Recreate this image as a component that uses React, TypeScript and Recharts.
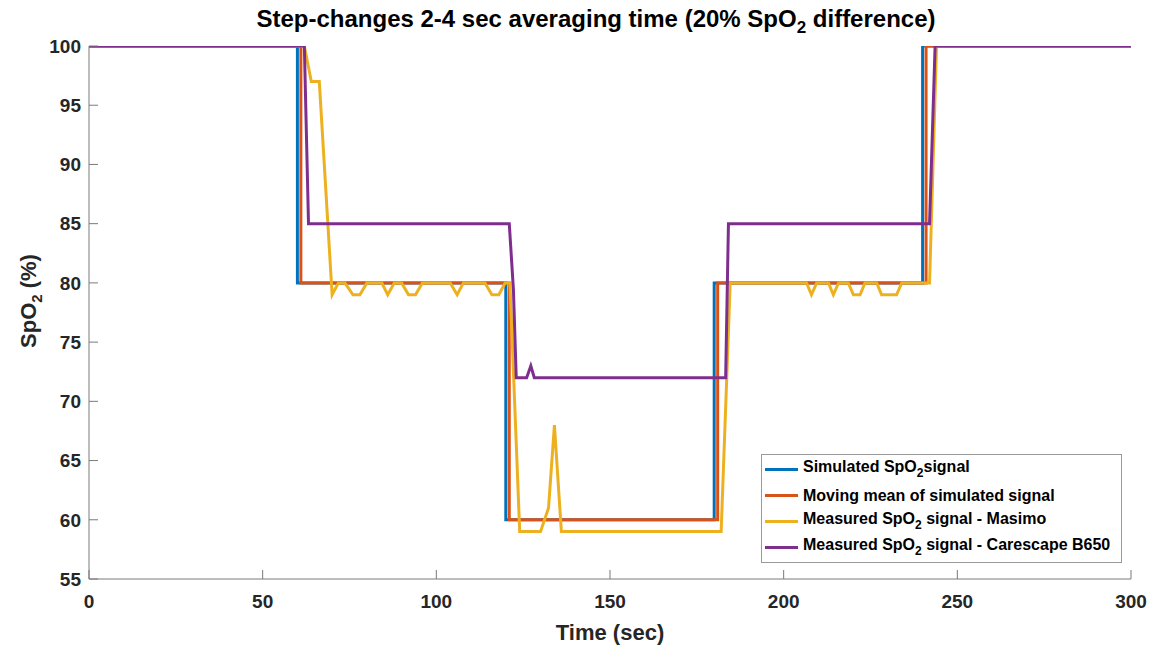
import React from "react";
import { LineChart, Line, XAxis, YAxis } from "recharts";

// time (sec) and SpO2 (%) for each trace
const simulatedTime = [0, 60, 60, 120, 120, 180, 180, 240, 240, 300];
const simulatedSpo2 = [100, 100, 80, 80, 60, 60, 80, 80, 100, 100];

const movingMeanTime = [0, 61, 61, 121, 121, 181, 181, 241, 241, 300];
const movingMeanSpo2 = [100, 100, 80, 80, 60, 60, 80, 80, 100, 100];

const masimoTime = [
  0, 62, 64, 66.3, 70, 71.8, 73.7, 76, 78, 80, 84.3, 86, 87.9, 90, 92, 94, 96, 104, 106, 107.8, 114, 116, 118, 119.8,
  121.2, 124, 130, 132.3, 134, 136, 182, 184.6, 206.6, 208, 209.5, 212.9, 214.3, 215.8, 218.6, 220.1, 222, 223.4,
  226.8, 228.2, 232.5, 234, 242, 244, 300,
];
const masimoSpo2 = [
  100, 100, 97, 97, 79, 80, 80, 79, 79, 80, 80, 79, 80, 80, 79, 79, 80, 80, 79, 80, 80, 79, 79, 80,
  80, 59, 59, 61, 68, 59, 59, 80, 80, 79, 80, 80, 79, 80, 80, 79, 79, 80,
  80, 79, 79, 80, 80, 100, 100,
];

const carescapeTime = [0, 62, 63.2, 121, 122.2, 123, 126, 127.2, 128.2, 183.3, 184.1, 242, 243.6, 300];
const carescapeSpo2 = [100, 100, 85, 85, 79.4, 72, 72, 73, 72, 72, 85, 85, 100, 100];

const xTicks = [0, 50, 100, 150, 200, 250, 300];
const yTicks = [55, 60, 65, 70, 75, 80, 85, 90, 95, 100];

const FONT = '"Liberation Sans", Arial, Helvetica, sans-serif';
const AXIS_GRAY = "#7a7a7a";
const TEXT = "#262626";

const toPoints = (t: number[], v: number[]) => t.map((time, i) => ({ t: time, spo2: v[i] }));

const series = [
  { key: "sim", color: "#0072BD", data: toPoints(simulatedTime, simulatedSpo2), label: ["Simulated SpO", "2", "signal"] },
  { key: "mean", color: "#D95319", data: toPoints(movingMeanTime, movingMeanSpo2), label: ["Moving mean of simulated signal"] },
  { key: "masimo", color: "#EDB120", data: toPoints(masimoTime, masimoSpo2), label: ["Measured SpO", "2", " signal - Masimo"] },
  {
    key: "carescape",
    color: "#7E2F8E",
    data: toPoints(carescapeTime, carescapeSpo2),
    label: ["Measured SpO", "2", " signal - Carescape B650"],
  },
];

// tick text plus an inward tick mark
const XTick = (props: any) => {
  const { x, y, payload } = props;
  return (
    <g>
      <line x1={x} x2={x} y1={y - 16} y2={y - 25} stroke={AXIS_GRAY} strokeWidth={1} />
      <text x={x} y={y} dy="0.71em" textAnchor="middle" fill={TEXT} fontSize={19} fontWeight="bold" fontFamily={FONT}>
        {payload.value}
      </text>
    </g>
  );
};

const YTick = (props: any) => {
  const { x, y, payload } = props;
  return (
    <g>
      <line x1={x + 8} x2={x + 17} y1={y} y2={y} stroke={AXIS_GRAY} strokeWidth={1} />
      <text x={x} y={y} dy="0.355em" textAnchor="end" fill={TEXT} fontSize={19} fontWeight="bold" fontFamily={FONT}>
        {payload.value}
      </text>
    </g>
  );
};

const XLabel = (props: any) => {
  const { viewBox } = props;
  const cx = viewBox.x + viewBox.width / 2;
  return (
    <text x={cx} y={640} textAnchor="middle" fill={TEXT} fontSize={22} fontWeight="bold" fontFamily={FONT}>
      Time (sec)
    </text>
  );
};

const YLabel = () => (
  <text
    transform="translate(36, 301) rotate(-90)"
    textAnchor="middle"
    fill={TEXT}
    fontSize={22}
    fontWeight="bold"
    fontFamily={FONT}
  >
    <tspan>SpO</tspan>
    <tspan dy={6} fontSize={15}>
      2
    </tspan>
    <tspan dy={-6}> (%)</tspan>
  </text>
);

const LegendBox = () => (
  <div
    style={{
      position: "absolute",
      left: 761,
      top: 454,
      width: 361,
      height: 109,
      boxSizing: "border-box",
      border: "1px solid #9a9a9a",
      background: "#fff",
      fontFamily: FONT,
      fontWeight: "bold",
      fontSize: 16,
      color: "#000",
      paddingTop: 1,
    }}
  >
    {series.map((s, i) => (
      <div key={s.key} style={{ display: "flex", alignItems: "center", height: i % 2 === 0 ? 27 : 25, paddingLeft: 3 }}>
        <span style={{ display: "inline-block", width: 33, height: 3, background: s.color, marginRight: 5 }} />
        <span style={{ whiteSpace: "nowrap", lineHeight: "16px" }}>
          {s.label[0]}
          {s.label[1] && <sub style={{ fontSize: 12, verticalAlign: "-5px" }}>{s.label[1]}</sub>}
          {s.label[2]}
        </span>
      </div>
    ))}
  </div>
);

export default function App() {
  return (
    <div style={{ position: "absolute", left: 0, top: 0, width: 1159, height: 651, background: "#fff" }}>
      <div
        style={{
          position: "absolute",
          left: 0,
          top: 5,
          width: 1192,
          textAlign: "center",
          fontFamily: FONT,
          fontWeight: "bold",
          fontSize: 24,
          color: "#000",
          whiteSpace: "nowrap",
        }}
      >
        Step-changes 2-4 sec averaging time (20% SpO
        <sub style={{ fontSize: 17, verticalAlign: "-6px" }}>2</sub> difference)
      </div>
      <LineChart width={1159} height={651} margin={{ top: 46, right: 28, bottom: 0, left: 0 }}>
        <XAxis
          dataKey="t"
          type="number"
          domain={[0, 300]}
          ticks={xTicks}
          allowDataOverflow
          height={72}
          stroke={AXIS_GRAY}
          tickLine={false}
          tickSize={0}
          tickMargin={16}
          tick={<XTick />}
          label={<XLabel />}
        />
        <YAxis
          type="number"
          domain={[55, 100]}
          ticks={yTicks}
          allowDataOverflow
          width={89}
          stroke={AXIS_GRAY}
          tickLine={false}
          tickSize={0}
          tickMargin={8}
          tick={<YTick />}
          label={<YLabel />}
        />
        {series.map((s) => (
          <Line
            key={s.key}
            data={s.data}
            dataKey="spo2"
            name={s.key}
            type="linear"
            stroke={s.color}
            strokeWidth={3}
            dot={false}
            activeDot={false}
            isAnimationActive={false}
          />
        ))}
      </LineChart>
      <LegendBox />
    </div>
  );
}
